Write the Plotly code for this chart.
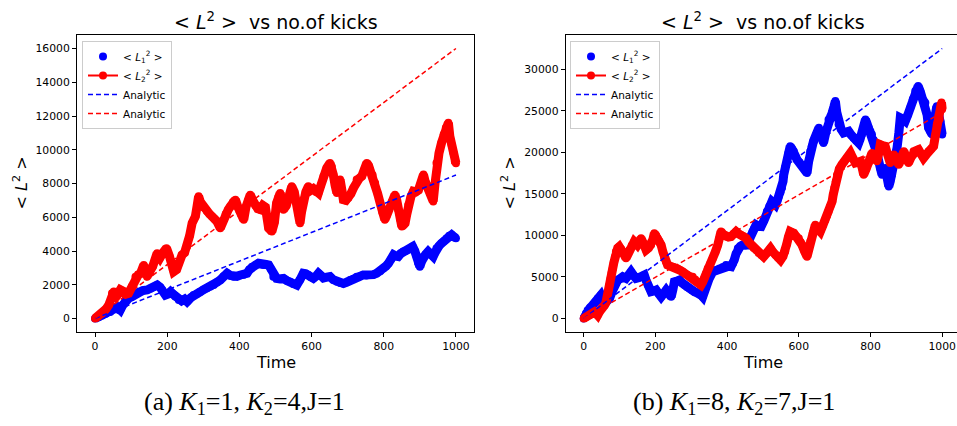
import plotly.graph_objects as go

# ---------------- panel (a): K1=1, K2=4, J=1 ----------------
a_t1 = [0, 10, 20, 30, 42, 52, 61, 66, 70, 77, 84, 93, 102, 112, 121, 132, 144, 154, 163, 172,
        180, 186, 195, 202, 209, 216, 222, 232, 240, 248, 255, 259, 266, 273, 282, 292, 300, 310,
        320, 329, 338, 347, 356, 366, 375, 384, 393, 403, 412, 421, 428, 435, 444, 453, 460, 467,
        474, 481, 488, 494, 503, 512, 522, 531, 540, 549, 559, 568, 577, 584, 591, 598, 605, 612,
        619, 626, 633, 642, 651, 660, 670, 679, 688, 697, 707, 716, 725, 734, 743, 752, 762, 771,
        780, 790, 799, 806, 813, 820, 827, 833, 840, 847, 854, 861, 868, 874, 880, 886, 891, 895,
        900, 905, 910, 916, 923, 930, 937, 942, 946, 953, 960, 967, 974, 981, 988, 994, 1000]
a_L1 = [0, 80, 180, 280, 390, 550, 690, 500, 500, 800, 1090, 1200, 1290, 1450, 1590, 1650, 1690,
        1780, 1880, 1980, 1850, 1690, 1390, 1450, 1590, 1450, 1300, 1090, 1050, 1150, 1000, 1090,
        1250, 1390, 1450, 1590, 1700, 1790, 1900, 1980, 2150, 2280, 2500, 2680, 2550, 2480, 2500,
        2580, 2600, 2680, 2900, 3070, 3150, 3270, 3200, 3170, 3200, 3170, 2900, 2480, 2380, 2350,
        2380, 2250, 2180, 2050, 1980, 2300, 2680, 2650, 2580, 2450, 2380, 2500, 2680, 2550, 2400,
        2450, 2480, 2300, 2180, 2100, 2080, 2150, 2280, 2350, 2480, 2500, 2580, 2550, 2580, 2600,
        2680, 2800, 2980, 3100, 3270, 3500, 3770, 3700, 3670, 3850, 3970, 4000, 4070, 4150, 4260,
        4000, 3670, 3300, 3070, 3400, 3670, 3800, 3970, 3850, 3670, 3900, 4170, 4300, 4460, 4600,
        4760, 4900, 4960, 4850, 4760]

a_t2 = [0, 10, 19, 30, 38, 47, 52, 56, 63, 70, 79, 86, 93, 102, 112, 120, 126, 135, 144, 152,
        160, 172, 180, 188, 198, 206, 212, 218, 226, 232, 241, 248, 255, 262, 269, 278, 283, 287,
        292, 300, 310, 317, 324, 331, 338, 347, 354, 362, 369, 375, 382, 389, 396, 404, 412, 418,
        424, 430, 437, 444, 451, 458, 465, 472, 477, 481, 490, 497, 503, 508, 513, 518, 522, 530,
        536, 545, 552, 558, 563, 568, 572, 577, 584, 591, 598, 605, 612, 619, 626, 633, 642, 651,
        656, 660, 665, 670, 675, 679, 684, 688, 695, 702, 709, 716, 725, 732, 739, 746, 753, 758,
        762, 769, 776, 783, 790, 796, 803, 808, 813, 822, 831, 836, 840, 845, 850, 855, 859, 864,
        868, 875, 882, 889, 896, 903, 910, 915, 922, 928, 933, 937, 942, 946, 953, 960, 966, 972,
        979, 983, 988, 993, 997, 1000]
a_L2 = [0, 150, 300, 550, 800, 1500, 1600, 1200, 1400, 1700, 1600, 1450, 1500, 1900, 2480, 2600,
        2680, 3170, 2480, 2700, 3100, 3870, 3600, 3900, 4170, 3700, 3200, 2780, 2900, 3300, 3770,
        3900, 4260, 4900, 5650, 6050, 6700, 7240, 6900, 6600, 6350, 6200, 6050, 5900, 5750, 5350,
        5800, 6200, 6450, 6640, 6900, 7040, 6600, 6200, 5850, 6600, 7000, 7340, 7000, 6700, 6500,
        6450, 6700, 6600, 6000, 5350, 5150, 5700, 6840, 7200, 7440, 6900, 6450, 6700, 7040, 7830,
        7500, 6900, 6200, 5650, 6300, 7040, 7500, 7830, 7600, 7700, 7500, 7440, 7900, 8430, 8920,
        9220, 9000, 8530, 7900, 7440, 7900, 8230, 7600, 7040, 7000, 7140, 7400, 7730, 8230, 8300,
        8430, 8800, 9220, 9050, 8820, 8500, 8030, 7400, 6840, 6300, 5850, 6100, 6450, 6900, 7340,
        7000, 6450, 5900, 5450, 5550, 5650, 6200, 6740, 7200, 7540, 7500, 7600, 8000, 8530, 8100,
        7700, 7640, 7300, 6940, 8000, 9220, 9800, 10410, 10900, 11300, 11600, 10800, 10300, 9820,
        9300, 9200]

a_analytic_t = [0, 1000]
a_analytic_1 = [0, 8500]
a_analytic_2 = [0, 16000]

# ---------------- panel (b): K1=8, K2=7, J=1 ----------------
b_t1 = [0, 6, 11, 18, 25, 32, 39, 44, 48, 53, 58, 65, 72, 79, 86, 95, 102, 109, 118, 125, 132,
        139, 146, 153, 160, 169, 174, 179, 184, 188, 195, 202, 209, 216, 223, 230, 237, 244, 249,
        253, 260, 267, 274, 281, 288, 295, 302, 309, 316, 323, 328, 332, 337, 341, 350, 360, 369,
        379, 388, 397, 404, 411, 416, 420, 425, 430, 437, 443, 450, 457, 464, 471, 476, 481, 488,
        495, 503, 511, 518, 525, 530, 535, 540, 544, 549, 553, 556, 558, 562, 567, 571, 576, 581,
        586, 590, 595, 602, 609, 616, 623, 627, 632, 636, 641, 648, 656, 662, 669, 676, 683, 688,
        693, 698, 702, 706, 711, 718, 725, 732, 739, 746, 753, 760, 767, 771, 776, 781, 786, 790,
        795, 800, 804, 809, 813, 818, 823, 827, 832, 836, 841, 846, 851, 855, 860, 867, 874, 879,
        883, 890, 897, 904, 911, 918, 925, 933, 939, 944, 949, 953, 958, 962, 967, 972, 978, 985,
        990, 995, 1000]
b_L1 = [0, 600, 1000, 1300, 1600, 2000, 2400, 2600, 2820, 2300, 1800, 2100, 2400, 3200, 4020,
        4630, 4800, 5030, 4830, 5200, 5630, 5200, 4830, 4900, 5030, 5230, 4600, 4020, 3600, 3220,
        3300, 3420, 3000, 2610, 3000, 3420, 3000, 2610, 3500, 4420, 4500, 4630, 4300, 4020, 3800,
        3620, 3400, 3220, 3100, 3010, 2800, 2610, 3300, 4020, 4800, 5630, 5800, 6030, 6200, 6440,
        6300, 6240, 6600, 7040, 7800, 8450, 8700, 8850, 8800, 8850, 9700, 10460, 10900, 11270,
        11100, 11070, 11800, 12880, 13500, 14090, 13900, 13680, 14200, 14690, 15200, 15700, 16500,
        17310, 18200, 19120, 19900, 20730, 20400, 20130, 19600, 19120, 18800, 18520, 18000, 17510,
        18800, 20130, 20700, 21340, 22100, 22950, 22000, 21140, 22500, 23950, 24300, 24760, 25500,
        26170, 24800, 23350, 22800, 22340, 22450, 22540, 22100, 21740, 21400, 21140, 21600, 22140,
        23000, 23950, 23500, 22950, 22500, 22140, 21500, 20930, 19900, 18920, 18100, 17310, 17700,
        18120, 17000, 15900, 16500, 17310, 18900, 20530, 22300, 24160, 24000, 23750, 24500, 25370,
        26400, 27380, 27980, 27300, 26570, 26200, 25970, 24500, 22950, 22500, 22140, 23800, 25560,
        24700, 23750, 22140]

b_t2 = [0, 8, 16, 23, 30, 35, 39, 44, 48, 53, 58, 62, 65, 68, 70, 72, 75, 78, 81, 84, 87, 90, 95,
        99, 104, 109, 114, 118, 122, 127, 134, 141, 146, 150, 155, 160, 167, 174, 181, 188, 193,
        197, 202, 206, 211, 216, 221, 225, 230, 234, 241, 248, 255, 262, 269, 276, 283, 290, 297,
        304, 311, 318, 323, 327, 332, 337, 341, 346, 353, 360, 367, 374, 379, 383, 390, 397, 404,
        411, 418, 425, 432, 439, 446, 453, 460, 467, 474, 481, 488, 495, 502, 511, 521, 528, 535,
        542, 549, 556, 562, 566, 571, 576, 581, 586, 593, 600, 605, 609, 616, 623, 628, 632, 639,
        646, 653, 660, 667, 674, 679, 683, 688, 693, 696, 699, 703, 707, 713, 720, 727, 734, 739,
        744, 751, 758, 765, 772, 777, 781, 788, 795, 800, 804, 811, 818, 823, 827, 834, 841, 848,
        855, 860, 865, 872, 879, 886, 893, 900, 906, 913, 920, 927, 934, 941, 948, 955, 962, 969,
        976, 981, 985, 990, 993, 996, 998, 1000]
b_L2 = [0, 200, 400, 600, 800, 600, 400, 800, 1200, 1400, 1600, 1900, 2400, 3000, 3500, 4020,
        4800, 5500, 6030, 6700, 7400, 8050, 8500, 8650, 8400, 8050, 7600, 7240, 7700, 8250, 8800,
        9260, 9050, 8850, 9200, 9660, 9000, 8250, 8500, 8850, 9500, 10260, 10000, 9660, 9300, 8850,
        8000, 7240, 6800, 6440, 6300, 6240, 6150, 6030, 5800, 5630, 5400, 5230, 5100, 5030, 4700,
        4420, 4200, 4020, 4400, 4830, 5400, 6030, 6600, 7240, 8000, 8850, 9700, 10460, 10100, 9860,
        9800, 9860, 10200, 10460, 10200, 10060, 9900, 9660, 9200, 8850, 8500, 8250, 7900, 7640,
        7440, 7900, 8450, 8000, 7640, 7300, 7040, 7500, 8050, 8900, 9800, 10460, 10350, 10260,
        9900, 9660, 9200, 8850, 8100, 7440, 8300, 9260, 10300, 11270, 10800, 10460, 11200, 11870,
        12400, 12880, 13500, 14090, 14900, 15700, 16500, 17310, 18000, 18520, 18900, 19320, 19600,
        19930, 19300, 18720, 18800, 18920, 18100, 17310, 18000, 18720, 19300, 19930, 19400, 18920,
        19900, 20930, 20800, 20730, 19700, 18720, 19200, 19730, 19100, 18520, 19300, 20130, 19400,
        18720, 19400, 20130, 20200, 20330, 19800, 19320, 19700, 20130, 20400, 20730, 22000, 23350,
        24500, 24000, 25500, 26000, 25200]

b_analytic_t = [0, 1000]
b_analytic_1 = [0, 32500]
b_analytic_2 = [0, 24800]

x_ticks = [0, 200, 400, 600, 800, 1000]
a_y_ticks = [0, 2000, 4000, 6000, 8000, 10000, 12000, 14000, 16000]
b_y_ticks = [0, 5000, 10000, 15000, 20000, 25000, 30000]

BLUE = "#0000ff"
RED = "#ff0000"
MSIZE = 8
BAND = 9
TICK_FONT = dict(family="DejaVu Sans", size=10.8, color="#000000")

L1_NAME = "&lt; <i>L</i><sub>1</sub><sup>2</sup> &gt;"
L2_NAME = "&lt; <i>L</i><sub>2</sub><sup>2</sup> &gt;"
TITLE = "&lt; <i>L</i><sup>2</sup> &gt;  vs no.of kicks"
YLAB = "&lt; <i>L</i><sup>2</sup> &gt;"

W, H = 957, 426


def px(x):
    return x / W


def py(y):
    return 1 - y / H


fig = go.Figure()


def add_panel(t1, L1, t2, L2, ta, an1, an2, xa, ya, legend):
    # thick band underneath the markers so the many overlapping points read as a ribbon
    fig.add_trace(go.Scatter(x=t1, y=L1, mode="lines", line=dict(color=BLUE, width=BAND),
                             xaxis=xa, yaxis=ya, showlegend=False, hoverinfo="skip"))
    fig.add_trace(go.Scatter(x=t1, y=L1, mode="markers", name=L1_NAME,
                             marker=dict(color=BLUE, size=MSIZE),
                             xaxis=xa, yaxis=ya, legend=legend))
    fig.add_trace(go.Scatter(x=t2, y=L2, mode="lines", line=dict(color=RED, width=BAND),
                             xaxis=xa, yaxis=ya, showlegend=False, hoverinfo="skip"))
    fig.add_trace(go.Scatter(x=t2, y=L2, mode="lines+markers", name=L2_NAME,
                             line=dict(color=RED, width=2),
                             marker=dict(color=RED, size=MSIZE),
                             xaxis=xa, yaxis=ya, legend=legend))
    fig.add_trace(go.Scatter(x=ta, y=an1, mode="lines", name="Analytic",
                             line=dict(color=BLUE, width=1.5, dash="5px,3px"),
                             xaxis=xa, yaxis=ya, legend=legend))
    fig.add_trace(go.Scatter(x=ta, y=an2, mode="lines", name="Analytic",
                             line=dict(color=RED, width=1.5, dash="5px,3px"),
                             xaxis=xa, yaxis=ya, legend=legend))


add_panel(a_t1, a_L1, a_t2, a_L2, a_analytic_t, a_analytic_1, a_analytic_2, "x", "y", "legend")
add_panel(b_t1, b_L1, b_t2, b_L2, b_analytic_t, b_analytic_1, b_analytic_2, "x2", "y2", "legend2")

axis_common = dict(showgrid=False, zeroline=False, ticks="outside", ticklen=4, tickwidth=1,
                   tickcolor="#000000", tickfont=TICK_FONT, showline=True, linecolor="#000000",
                   linewidth=1, tickformat="d")

plot_top, plot_bottom = 35, 332
legend_style = dict(xanchor="left", yanchor="top",
                    bgcolor="rgba(255,255,255,0.8)", bordercolor="#cccccc", borderwidth=1,
                    font=dict(family="DejaVu Sans", size=10.5, color="#000000"),
                    tracegroupgap=0, itemwidth=30)

fig.update_layout(
    width=W, height=H,
    margin=dict(l=0, r=0, t=0, b=0),
    paper_bgcolor="white", plot_bgcolor="white",
    xaxis=dict(domain=[px(77), px(474)], range=[-50, 1050], tickvals=x_ticks, anchor="y",
               mirror=True, **axis_common),
    yaxis=dict(domain=[py(plot_bottom), py(plot_top)], range=[-800, 16800], tickvals=a_y_ticks,
               anchor="x", mirror=True, **axis_common),
    xaxis2=dict(domain=[px(565.7), 1.0], range=[-50.2, 1041.3], tickvals=x_ticks, anchor="y2",
                mirror=True, **axis_common),
    yaxis2=dict(domain=[py(plot_bottom), py(plot_top)], range=[-1625, 34125], tickvals=b_y_ticks,
                anchor="x2", mirror=False, **axis_common),
    legend=dict(x=px(82), y=py(41), **legend_style),
    legend2=dict(x=px(570), y=py(41), **legend_style),
)

annotations = []
for cx, ylab_x in [(275.5, 21), (762.9, 509)]:
    annotations.append(dict(x=px(cx), y=py(21), xref="paper", yref="paper", text=TITLE,
                            showarrow=False, xanchor="center", yanchor="middle",
                            font=dict(family="DejaVu Sans", size=19, color="#000000")))
    annotations.append(dict(x=px(cx), y=py(362), xref="paper", yref="paper", text="Time",
                            showarrow=False, xanchor="center", yanchor="middle",
                            font=dict(family="DejaVu Sans", size=16, color="#000000")))
    annotations.append(dict(x=px(ylab_x), y=py(183.5), xref="paper", yref="paper", text=YLAB,
                            showarrow=False, xanchor="center", yanchor="middle", textangle=-90,
                            font=dict(family="DejaVu Sans", size=16, color="#000000")))

for cx, cap in [(244.5, "(a) <i>K</i><sub>1</sub>=1, <i>K</i><sub>2</sub>=4,J=1"),
                (733.5, "(b) <i>K</i><sub>1</sub>=8, <i>K</i><sub>2</sub>=7,J=1")]:
    annotations.append(dict(x=px(cx), y=py(403), xref="paper", yref="paper", text=cap,
                            showarrow=False, xanchor="center", yanchor="middle",
                            font=dict(family="Liberation Serif", size=26, color="#000000")))
fig.update_layout(annotations=annotations)

fig.write_html("out.html")
